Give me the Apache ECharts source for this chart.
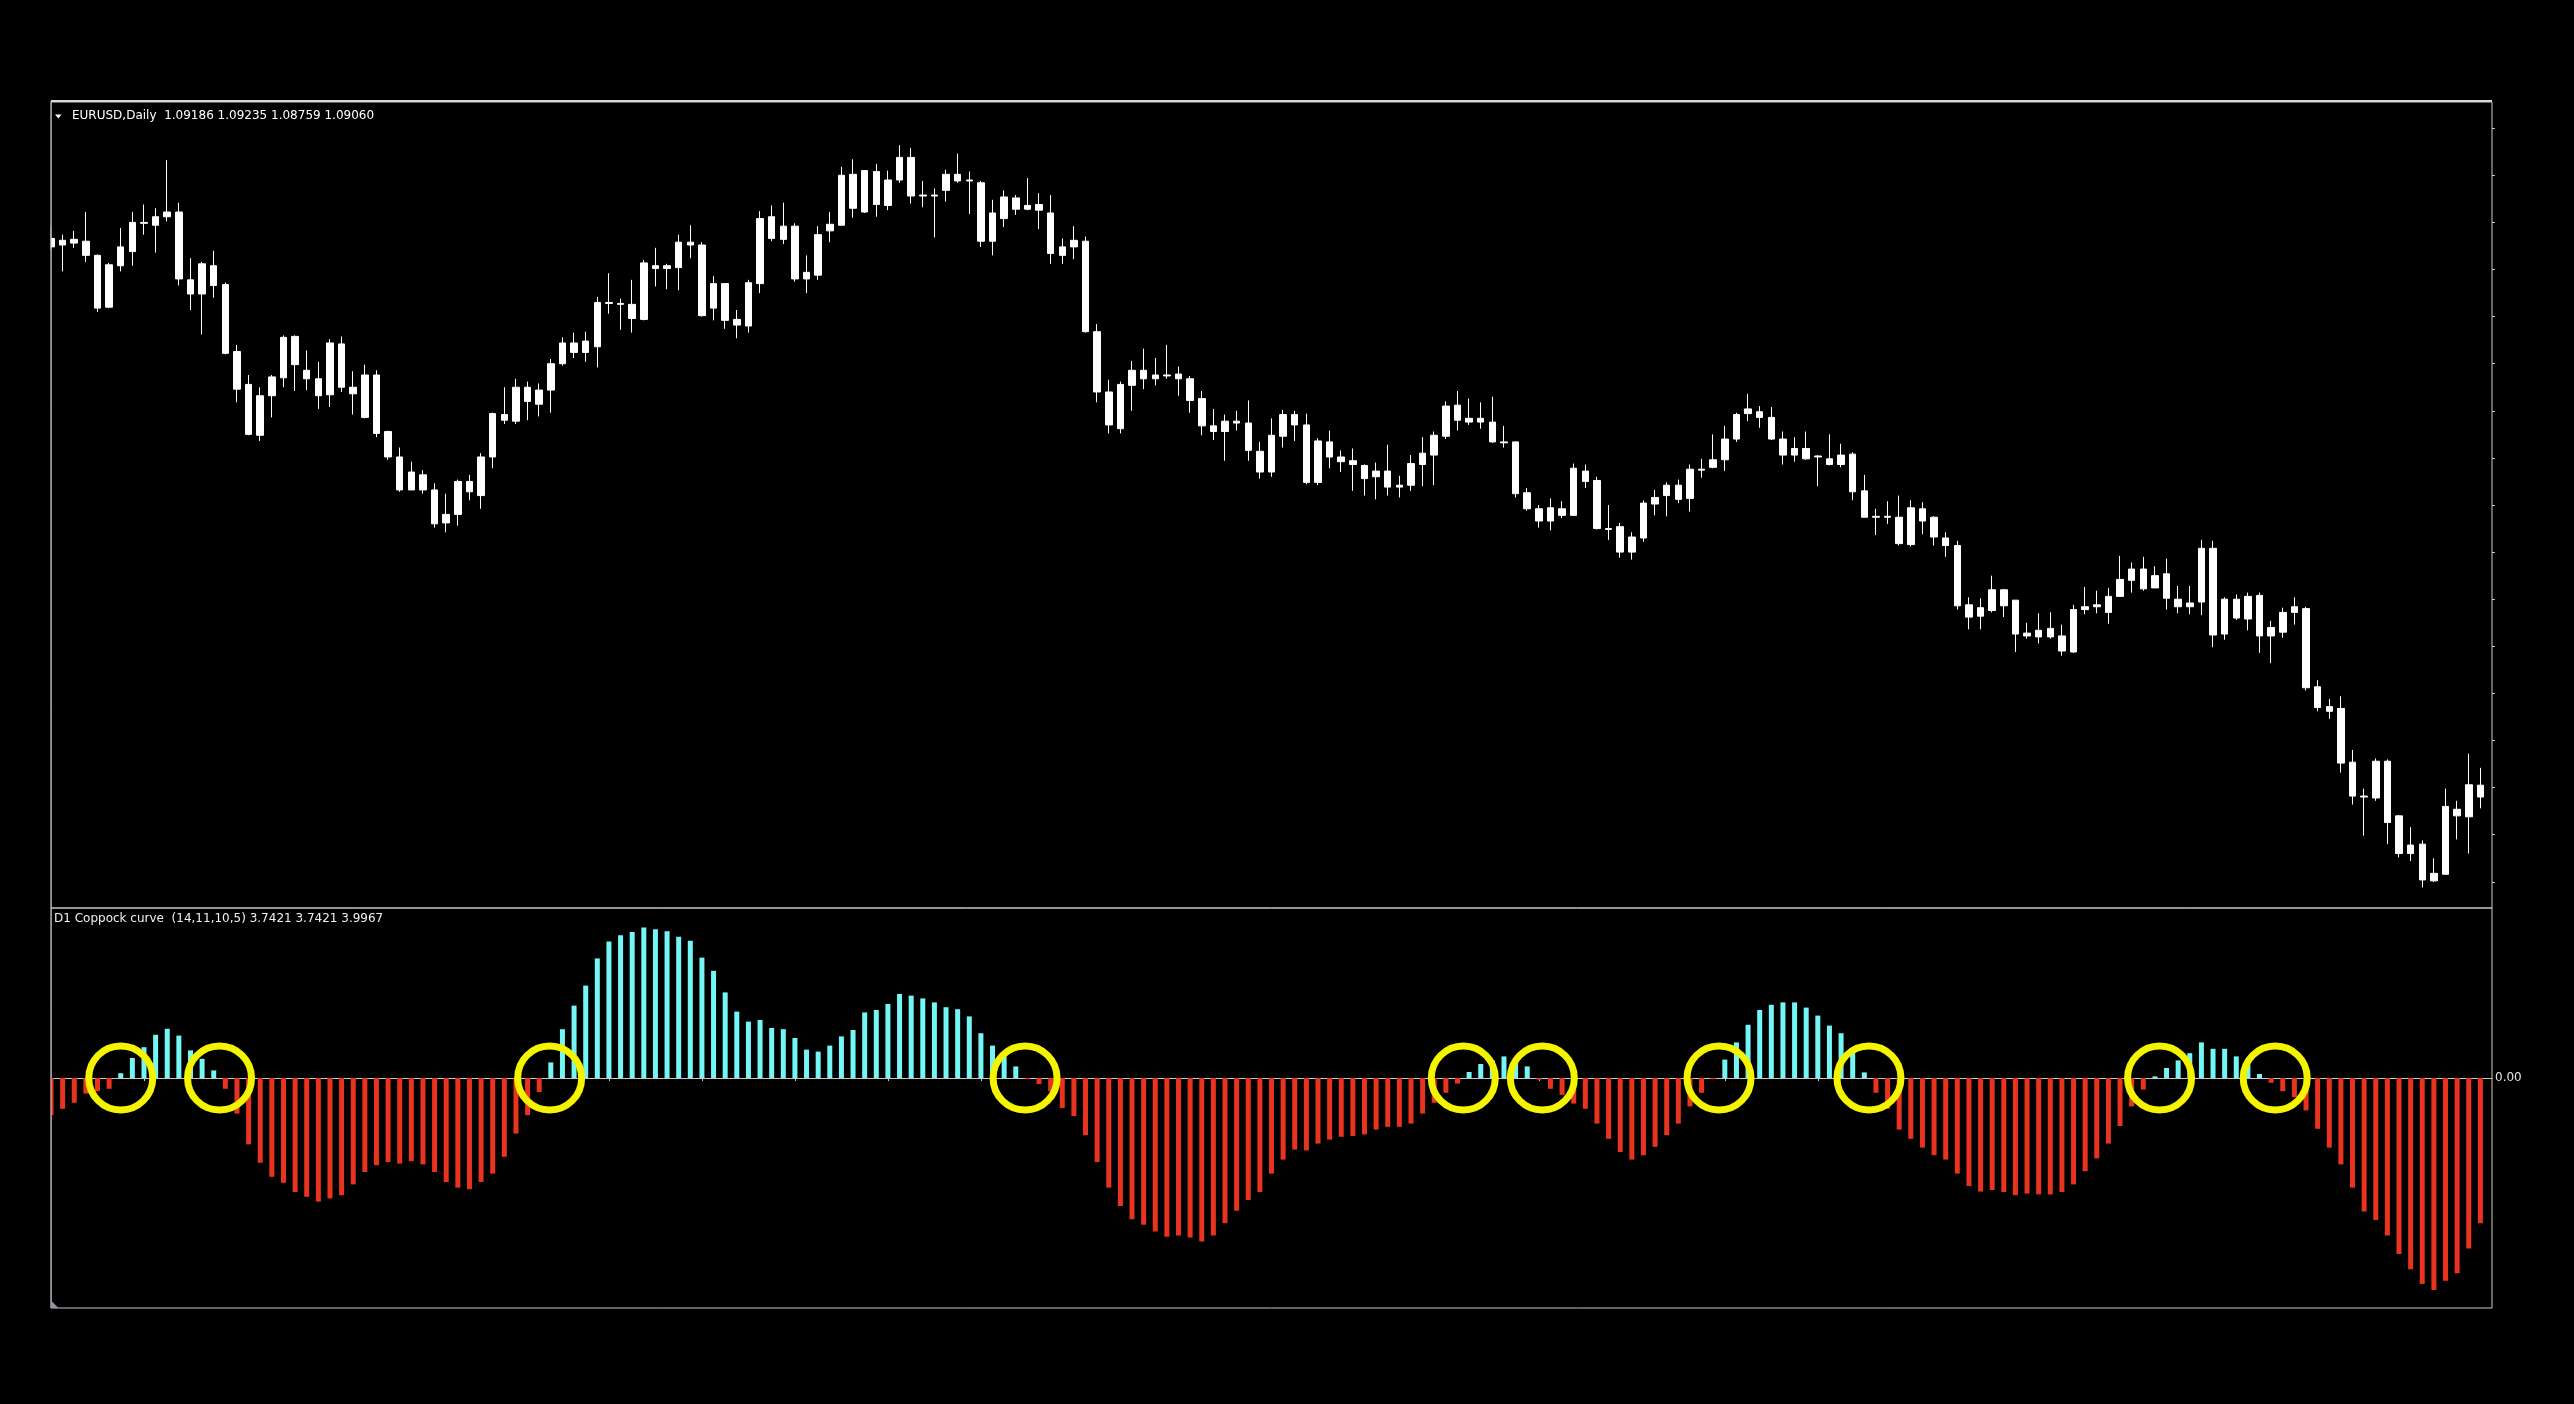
<!DOCTYPE html>
<html><head><meta charset="utf-8">
<script src="https://cdn.jsdelivr.net/npm/echarts@6/dist/echarts.min.js"></script>
<style>html,body{margin:0;padding:0;background:#000;overflow:hidden;} #chart{width:2574px;height:1404px;}</style>
</head><body><div id="chart"></div>
<script>
const symbolName = 'EURUSD,Daily';
const headerQuote = [1.09186, 1.09235, 1.08759, 1.09060];
const indicatorName = 'D1 Coppock curve';
const indicatorParams = '(14,11,10,5)';
const indicatorReadout = [3.7421, 3.7421, 3.9967];

const opens = [
1.1490,1.1497,1.1494,1.1496,1.1481,1.1426,1.1470,1.1485,1.1516,1.1513,
1.1522,1.1527,1.1455,1.1440,1.1470,1.1450,1.1379,1.1344,1.1290,1.1332,
1.1351,1.1395,1.1359,1.1350,1.1333,1.1387,1.1341,1.1309,1.1354,1.1294,
1.1267,1.1232,1.1248,1.1232,1.1197,1.1206,1.1241,1.1226,1.1267,1.1312,
1.1305,1.1341,1.1323,1.1338,1.1366,1.1388,1.1378,1.1384,1.1431,1.1430,
1.1429,1.1413,1.1470,1.1467,1.1468,1.1495,1.1492,1.1425,1.1451,1.1413,
1.1406,1.1451,1.1522,1.1498,1.1512,1.1456,1.1460,1.1507,1.1513,1.1567,
1.1527,1.1570,1.1534,1.1561,1.1585,1.1544,1.1545,1.1550,1.1567,1.1560,
1.1558,1.1496,1.1520,1.1542,1.1530,1.1535,1.1526,1.1481,1.1490,1.1496,
1.1400,1.1336,1.1297,1.1343,1.1359,1.1350,1.1354,1.1355,1.1350,1.1329,
1.1300,1.1294,1.1305,1.1303,1.1273,1.1251,1.1289,1.1312,1.1301,1.1240,
1.1283,1.1267,1.1263,1.1258,1.1246,1.1252,1.1235,1.1237,1.1259,1.1269,
1.1289,1.1322,1.1308,1.1304,1.1304,1.1283,1.1283,1.1229,1.1212,1.1199,
1.1212,1.1205,1.1252,1.1242,1.1191,1.1193,1.1166,1.1181,1.1217,1.1226,
1.1237,1.1223,1.1254,1.1256,1.1264,1.1286,1.1313,1.1315,1.1309,1.1286,
1.1269,1.1276,1.1267,1.1265,1.1259,1.1270,1.1231,1.1203,1.1204,1.1203,
1.1174,1.1212,1.1203,1.1181,1.1173,1.1110,1.1098,1.1104,1.1126,1.1115,
1.1080,1.1076,1.1085,1.1077,1.1060,1.1105,1.1108,1.1102,1.1119,1.1136,
1.1148,1.1128,1.1143,1.1116,1.1108,1.1113,1.1170,1.1079,1.1116,1.1095,
1.1120,1.1077,1.1081,1.1102,1.1106,1.1023,1.1002,1.1000,1.0943,1.0907,
1.0905,1.0944,1.0886,1.0846,1.0856,1.0817,1.0824,1.0893,1.0885,1.09186];

const closes = [
1.1499,1.1492,1.1498,1.1481,1.1425,1.1471,1.1490,1.1516,1.1515,1.1522,
1.1527,1.1456,1.1440,1.1472,1.1449,1.1377,1.1339,1.1291,1.1332,1.1352,
1.1394,1.1365,1.1350,1.1332,1.1388,1.1341,1.1334,1.1354,1.1292,1.1267,
1.1232,1.1251,1.1232,1.1196,1.1206,1.1241,1.1230,1.1267,1.1313,1.1306,
1.1341,1.1326,1.1338,1.1366,1.1388,1.1378,1.1390,1.1431,1.1430,1.1429,
1.1414,1.1473,1.1467,1.1470,1.1495,1.1492,1.1417,1.1451,1.1412,1.1407,
1.1452,1.1520,1.1499,1.1512,1.1456,1.1463,1.1503,1.1514,1.1566,1.1531,
1.1571,1.1535,1.1561,1.1585,1.1544,1.1545,1.1544,1.1567,1.1560,1.1561,
1.1496,1.1526,1.1543,1.1530,1.1534,1.1529,1.1483,1.1490,1.1497,1.1400,
1.1336,1.1301,1.1344,1.1359,1.1350,1.1354,1.1353,1.1350,1.1327,1.1300,
1.1294,1.1305,1.1303,1.1274,1.1251,1.1290,1.1312,1.1301,1.1240,1.1284,
1.1267,1.1262,1.1259,1.1244,1.1252,1.1235,1.1237,1.1260,1.1271,1.1290,
1.1321,1.1306,1.1304,1.1308,1.1283,1.1282,1.1228,1.1212,1.1199,1.1213,
1.1205,1.1255,1.1241,1.1191,1.1190,1.1166,1.1182,1.1218,1.1224,1.1237,
1.1222,1.1254,1.1253,1.1264,1.1286,1.1312,1.1318,1.1309,1.1286,1.1269,
1.1276,1.1265,1.1268,1.1259,1.1269,1.1230,1.1203,1.1204,1.1203,1.1175,
1.1213,1.1199,1.1182,1.1173,1.1109,1.1097,1.1107,1.1126,1.1109,1.1079,
1.1077,1.1083,1.1076,1.1061,1.1105,1.1108,1.1110,1.1119,1.1137,1.1148,
1.1127,1.1141,1.1117,1.1108,1.1112,1.1170,1.1078,1.1116,1.1096,1.1119,
1.1077,1.1086,1.1102,1.1108,1.1022,1.1001,1.0997,1.0942,1.0907,1.0906,
1.0944,1.0879,1.0846,1.0855,1.0818,1.0825,1.0896,1.0886,1.0919,1.09060];

const lows = [
1.1486,1.1464,1.1489,1.1474,1.1421,1.1425,1.1464,1.1470,1.1503,1.1484,
1.1517,1.1449,1.1423,1.1397,1.1436,1.1376,1.1325,1.1290,1.1284,1.1309,
1.1341,1.1337,1.1338,1.1318,1.1320,1.1336,1.1312,1.1308,1.1288,1.1264,
1.1230,1.1232,1.1228,1.1192,1.1187,1.1194,1.1221,1.1212,1.1255,1.1302,
1.1302,1.1306,1.1310,1.1314,1.1364,1.1372,1.1368,1.1362,1.1419,1.1402,
1.1399,1.1412,1.1448,1.1445,1.1444,1.1478,1.1416,1.1412,1.1403,1.1393,
1.1399,1.1441,1.1496,1.1493,1.1453,1.1441,1.1455,1.1495,1.1513,1.1521,
1.1526,1.1522,1.1529,1.1558,1.1536,1.1532,1.1500,1.1538,1.1558,1.1525,
1.1490,1.1481,1.1511,1.1524,1.1529,1.1509,1.1472,1.1472,1.1477,1.1399,
1.1325,1.1292,1.1292,1.1316,1.1339,1.1343,1.1350,1.1332,1.1314,1.1290,
1.1285,1.1263,1.1295,1.1263,1.1244,1.1246,1.1277,1.1284,1.1238,1.1237,
1.1255,1.1251,1.1231,1.1226,1.1222,1.1226,1.1224,1.1231,1.1236,1.1237,
1.1286,1.1295,1.1301,1.1297,1.1282,1.1277,1.1224,1.1210,1.1192,1.1189,
1.1202,1.1205,1.1234,1.1190,1.1179,1.1160,1.1158,1.1177,1.1205,1.1204,
1.1218,1.1209,1.1245,1.1255,1.1252,1.1283,1.1305,1.1298,1.1285,1.1259,
1.1262,1.1264,1.1236,1.1258,1.1256,1.1221,1.1203,1.1184,1.1196,1.1173,
1.1172,1.1185,1.1173,1.1161,1.1105,1.1084,1.1084,1.1102,1.1097,1.1060,
1.1074,1.1069,1.1074,1.1056,1.1059,1.1100,1.1101,1.1090,1.1119,1.1123,
1.1125,1.1128,1.1105,1.1101,1.1100,1.1099,1.1065,1.1073,1.1094,1.1083,
1.1059,1.1048,1.1075,1.1089,1.1019,1.0997,1.0989,1.0932,1.0898,1.0865,
1.0902,1.0856,1.0842,1.0838,1.0810,1.0816,1.0824,1.0861,1.0846,1.0894];

const highs = [
1.1511,1.1503,1.1507,1.1527,1.1482,1.1473,1.1510,1.1527,1.1535,1.1531,
1.1582,1.1537,1.1478,1.1474,1.1486,1.1452,1.1386,1.1354,1.1341,1.1354,
1.1396,1.1396,1.1380,1.1368,1.1392,1.1395,1.1358,1.1365,1.1359,1.1295,
1.1277,1.1262,1.1253,1.1239,1.1228,1.1243,1.1248,1.1271,1.1314,1.1341,
1.1350,1.1347,1.1345,1.1371,1.1394,1.1399,1.1400,1.1437,1.1462,1.1435,
1.1455,1.1476,1.1489,1.1472,1.1503,1.1513,1.1495,1.1459,1.1451,1.1423,
1.1455,1.1528,1.1534,1.1537,1.1515,1.1481,1.1512,1.1527,1.1575,1.1583,
1.1571,1.1578,1.1571,1.1598,1.1595,1.1560,1.1552,1.1572,1.1589,1.1570,
1.1560,1.1540,1.1550,1.1545,1.1563,1.1547,1.1545,1.1499,1.1512,1.1501,
1.1408,1.1349,1.1347,1.1369,1.1382,1.1372,1.1386,1.1363,1.1353,1.1337,
1.1318,1.1312,1.1316,1.1327,1.1283,1.1308,1.1317,1.1316,1.1313,1.1287,
1.1295,1.1274,1.1276,1.1259,1.1261,1.1280,1.1247,1.1269,1.1288,1.1294,
1.1326,1.1337,1.1329,1.1325,1.1331,1.1300,1.1283,1.1234,1.1216,1.1223,
1.1220,1.1260,1.1259,1.1246,1.1216,1.1197,1.1187,1.1221,1.1232,1.1240,
1.1243,1.1259,1.1265,1.1291,1.1300,1.1314,1.1334,1.1321,1.1320,1.1294,
1.1288,1.1294,1.1269,1.1291,1.1281,1.1272,1.1248,1.1212,1.1220,1.1226,
1.1221,1.1219,1.1204,1.1187,1.1178,1.1118,1.1117,1.1141,1.1127,1.1115,
1.1091,1.1101,1.1102,1.1089,1.1110,1.1129,1.1125,1.1128,1.1162,1.1155,
1.1161,1.1151,1.1159,1.1130,1.1130,1.1179,1.1178,1.1118,1.1121,1.1123,
1.1123,1.1093,1.1107,1.1118,1.1108,1.1030,1.1010,1.1013,1.0956,1.0915,
1.0947,1.0946,1.0887,1.0874,1.0860,1.0841,1.0915,1.0902,1.0952,1.0937];

const coppock = [
-0.93,-0.77,-0.62,-0.39,-0.33,-0.27,0.12,0.50,0.77,1.08,
1.23,1.06,0.69,0.48,0.19,-0.27,-0.89,-1.66,-2.12,-2.47,
-2.62,-2.85,-2.97,-3.09,-3.01,-2.93,-2.66,-2.35,-2.18,-2.10,
-2.14,-2.08,-2.16,-2.35,-2.60,-2.74,-2.78,-2.60,-2.39,-1.97,
-1.39,-0.93,-0.35,0.39,1.22,1.81,2.31,2.99,3.41,3.57,
3.65,3.76,3.72,3.67,3.53,3.43,3.01,2.68,2.14,1.66,
1.41,1.45,1.25,1.22,1.00,0.71,0.66,0.81,1.04,1.20,
1.64,1.70,1.85,2.10,2.06,1.99,1.89,1.77,1.72,1.54,
1.12,0.81,0.54,0.29,-0.03,-0.15,-0.33,-0.75,-0.95,-1.43,
-2.10,-2.74,-3.20,-3.53,-3.67,-3.84,-3.97,-3.94,-3.99,-4.09,
-3.94,-3.63,-3.32,-3.05,-2.85,-2.39,-2.04,-1.79,-1.81,-1.64,
-1.54,-1.47,-1.45,-1.41,-1.29,-1.22,-1.22,-1.14,-0.89,-0.62,
-0.37,-0.14,0.15,0.35,0.44,0.54,0.46,0.29,-0.04,-0.27,
-0.42,-0.64,-0.77,-1.14,-1.52,-1.85,-2.04,-1.93,-1.72,-1.43,
-1.14,-0.71,-0.37,-0.03,0.46,0.89,1.33,1.70,1.83,1.89,
1.89,1.76,1.56,1.31,1.12,0.73,0.14,-0.37,-0.77,-1.29,
-1.52,-1.74,-1.93,-2.04,-2.39,-2.70,-2.84,-2.80,-2.85,-2.93,
-2.89,-2.91,-2.91,-2.85,-2.66,-2.33,-2.01,-1.64,-1.20,-0.71,
-0.29,0.04,0.25,0.44,0.62,0.89,0.73,0.73,0.54,0.41,
0.10,-0.12,-0.33,-0.48,-0.81,-1.27,-1.74,-2.16,-2.74,-3.34,
-3.55,-3.94,-4.40,-4.78,-5.15,-5.30,-5.07,-4.88,-4.26,-3.63];

// zero-crossing highlights (bar index positions)
const crossingMarks = [6.0, 14.5, 42.9, 83.8, 121.5, 128.3, 143.5, 156.4, 181.4, 191.35];

const priceTicks = [1.0816,1.0866,1.0916,1.0966,1.1016,1.1066,1.1116,1.1166,1.1216,
                    1.1266,1.1316,1.1366,1.1416,1.1466,1.1516,1.1566,1.1616];
const indicatorTicks = [0];

const categories = opens.map((_, i) => String(i + 1)).concat(['']);

const font = '"DejaVu Sans", Verdana, sans-serif';
const headerText = symbolName + '  ' + headerQuote.map(v => v.toFixed(5)).join(' ');
const indText = indicatorName + '  ' + indicatorParams + ' ' + indicatorReadout.map(v => v.toFixed(4)).join(' ');

const chart = echarts.init(document.getElementById('chart'), null, {renderer: 'canvas'});
const frame = '#c8c8c8';
const option = {
  backgroundColor: '#000000',
  animation: false,
  title: [
    {text: headerText, left: 72, top: 110, padding: 0, z: 120,
     textStyle: {color: '#ffffff', fontSize: 12, fontWeight: 'normal', fontFamily: font}},
    {text: indText, left: 54, top: 913, padding: 0, z: 120,
     textStyle: {color: '#f0f0f0', fontSize: 12, fontWeight: 'normal', fontFamily: font}}
  ],
  grid: [
    {left: 51, top: 102, width: 2441, height: 806, show: true, borderColor: frame, borderWidth: 1,
     backgroundColor: 'transparent', containLabel: false, outerBoundsMode: 'none'},
    {left: 51, top: 908, width: 2441, height: 400, show: true, borderColor: frame, borderWidth: 1,
     backgroundColor: 'transparent', containLabel: false, outerBoundsMode: 'none'}
  ],
  xAxis: [
    {type: 'category', gridIndex: 0, data: categories, boundaryGap: false,
     axisLine: {show: false}, axisTick: {show: false}, axisLabel: {show: false}, splitLine: {show: false}},
    {type: 'category', gridIndex: 1, data: categories, boundaryGap: false, position: 'bottom',
     axisLine: {show: true, lineStyle: {color: frame, width: 1}},
     axisTick: {show: true, interval: 7, length: 3, inside: false, lineStyle: {color: frame}},
     axisLabel: {show: false}, splitLine: {show: false}},
    {type: 'value', gridIndex: 1, min: 0, max: categories.length - 1, show: false, position: 'top',
     splitLine: {show: false}}
  ],
  yAxis: [
    {type: 'value', gridIndex: 0, position: 'right', min: 1.07882, max: 1.16438,
     axisLine: {show: false},
     axisTick: {show: true, length: 3, inside: false, customValues: priceTicks, lineStyle: {color: frame}},
     axisLabel: {show: false}, splitLine: {show: false}},
    {type: 'value', gridIndex: 1, position: 'right', min: -5.75, max: 4.25,
     axisLine: {show: false}, axisTick: {show: false},
     axisLabel: {show: true, customValues: indicatorTicks, formatter: v => Number(v).toFixed(2),
                 color: '#e4e4e4', fontSize: 12, fontFamily: font, margin: 3},
     splitLine: {show: false}}
  ],
  series: [
    {type: 'candlestick', name: symbolName, xAxisIndex: 0, yAxisIndex: 0, clip: true,
     data: opens.map((o, i) => [o, closes[i], lows[i], highs[i]]),
     barWidth: 7,
     itemStyle: {color: '#ffffff', color0: '#ffffff', borderColor: '#ffffff', borderColor0: '#ffffff', borderWidth: 1}},
    {type: 'bar', name: indicatorName, xAxisIndex: 1, yAxisIndex: 1, data: coppock, barWidth: 5,
     itemStyle: {color: p => (p.value >= 0 ? '#74f6f6' : '#e8331f')}},
    {type: 'scatter', xAxisIndex: 2, yAxisIndex: 1, silent: true, z: 10,
     data: crossingMarks.map(x => [x, 0]),
     symbol: 'circle', symbolSize: 64,
     itemStyle: {color: 'rgba(0,0,0,0)', borderColor: '#f4f400', borderWidth: 7, opacity: 1}}
  ],
  graphic: [
    {type: 'rect', shape: {x: 0, y: 102, width: 50.5, height: 1206}, style: {fill: '#000000'}, z: 90},
    {type: 'line', shape: {x1: 51, y1: 101, x2: 2492, y2: 101}, style: {stroke: '#d8d8d8', lineWidth: 2}, z: 100},
    {type: 'line', shape: {x1: 51, y1: 101, x2: 51, y2: 1308}, style: {stroke: frame, lineWidth: 1}, z: 100},
    {type: 'polygon', shape: {points: [[55, 114.5], [61.5, 114.5], [58.25, 118.5]]}, style: {fill: '#ffffff'}, z: 100},
    {type: 'polygon', shape: {points: [[51.5, 1301], [51.5, 1308], [58.5, 1308]]}, style: {fill: '#8a99a8'}, z: 100}
  ]
};
chart.setOption(option);
</script>
</body></html>
